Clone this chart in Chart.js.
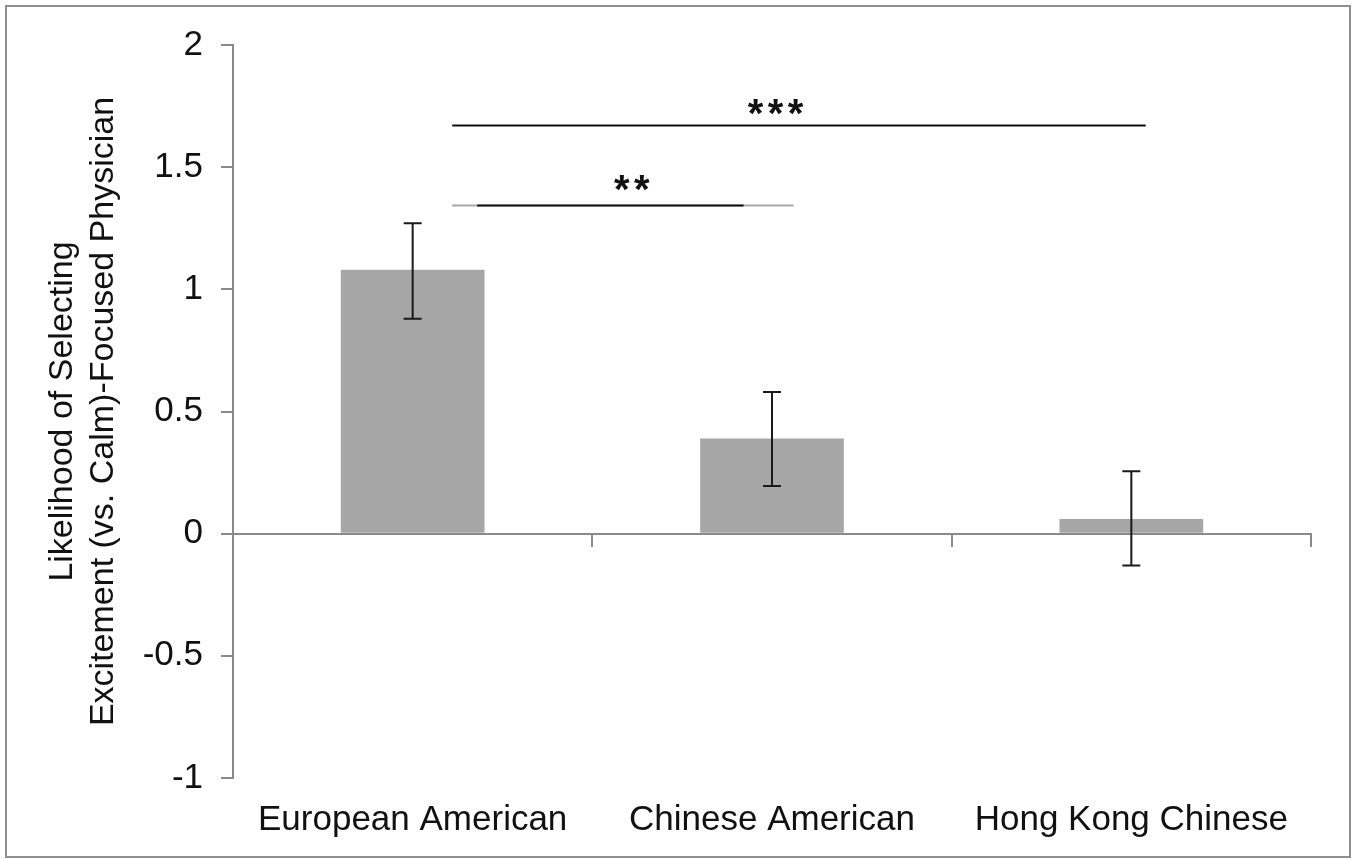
<!DOCTYPE html>
<html>
<head>
<meta charset="utf-8">
<script src="https://cdn.jsdelivr.net/npm/chart.js@4/dist/chart.umd.min.js"></script>
<style>
    html, body { margin: 0; padding: 0; background: #ffffff; }
    canvas { display: block; }
</style>
</head>
<body>
<canvas id="chart" width="1355" height="859"></canvas>
<script>
// Data
const groups = ['European American', 'Chinese American', 'Hong Kong Chinese'];
const means = [1.08, 0.39, 0.06];
const errHigh = [1.27, 0.58, 0.255];
const errLow = [0.88, 0.195, -0.13];
const yTicks = [-1, -0.5, 0, 0.5, 1, 1.5, 2];

// significance brackets: from/to in category units, y in data units
const sigLines = [
    { from: 0.11, to: 2.04, y: 1.672, label: '***', labelX: 1.01, labelY: 1.755 },
    { from: 0.11, to: 1.06, y: 1.344, label: '**', labelX: 0.61, labelY: 1.442 }
];

const AXIS_GREY = '#8a8a8a';
const TEXT = '#111111';
const FONT = "'Liberation Sans', Arial, sans-serif";

const framePlugin = {
    id: 'frame',
    beforeDraw(chart) {
        const ctx = chart.ctx;
        ctx.save();
        ctx.fillStyle = '#ffffff';
        ctx.fillRect(0, 0, chart.width, chart.height);
        ctx.strokeStyle = '#8f8f8f';
        ctx.lineWidth = 2;
        ctx.strokeRect(6, 6, 1344, 851);
        ctx.restore();
    }
};

const errorBarPlugin = {
    id: 'errorBars',
    afterDatasetsDraw(chart) {
        const ctx = chart.ctx;
        const y = chart.scales.y;
        const meta = chart.getDatasetMeta(0);
        ctx.save();
        ctx.strokeStyle = '#1a1a1a';
        ctx.lineWidth = 2;
        meta.data.forEach((bar, i) => {
            const top = y.getPixelForValue(errHigh[i]);
            const bottom = y.getPixelForValue(errLow[i]);
            ctx.beginPath();
            ctx.moveTo(bar.x, top);
            ctx.lineTo(bar.x, bottom);
            ctx.moveTo(bar.x - 9, top);
            ctx.lineTo(bar.x + 9, top);
            ctx.moveTo(bar.x - 9, bottom);
            ctx.lineTo(bar.x + 9, bottom);
            ctx.stroke();
        });
        ctx.restore();
    }
};

const significancePlugin = {
    id: 'significance',
    afterDatasetsDraw(chart) {
        const ctx = chart.ctx;
        const x = chart.scales.x;
        const y = chart.scales.y;
        ctx.save();
        sigLines.forEach((s, idx) => {
            const py = Math.round(y.getPixelForValue(s.y)) + 0.5;
            const x1 = x.getPixelForValue(s.from);
            const x2 = x.getPixelForValue(s.to);
            if (idx === 1) {
                // faded ends on the shorter bracket
                ctx.strokeStyle = '#a8a8a8';
                ctx.lineWidth = 2;
                ctx.beginPath();
                ctx.moveTo(x1, py);
                ctx.lineTo(x2, py);
                ctx.stroke();
                ctx.strokeStyle = '#111111';
                ctx.beginPath();
                ctx.moveTo(x1 + 25, py);
                ctx.lineTo(x2 - 50, py);
                ctx.stroke();
            } else {
                ctx.strokeStyle = '#111111';
                ctx.lineWidth = 2;
                ctx.beginPath();
                ctx.moveTo(x1, py);
                ctx.lineTo(x2, py);
                ctx.stroke();
            }

            ctx.fillStyle = TEXT;
            ctx.font = 'bold 40px ' + FONT;
            ctx.textAlign = 'center';
            ctx.textBaseline = 'alphabetic';
            const cx = x.getPixelForValue(s.labelX);
            const cy = y.getPixelForValue(s.labelY);
            const n = s.label.length;
            for (let k = 0; k < n; k++) {
                const sx = cx + (k - (n - 1) / 2) * 20;
                ctx.fillText('*', sx, cy + 22);
            }
        });
        ctx.restore();
    }
};

const ctx = document.getElementById('chart').getContext('2d');

new Chart(ctx, {
    type: 'bar',
    data: {
        labels: groups,
        datasets: [{
            data: means,
            backgroundColor: '#a6a6a6',
            borderWidth: 0,
            barPercentage: 0.4,
            categoryPercentage: 1.0,
            xAxisID: 'x',
            yAxisID: 'y'
        }]
    },
    options: {
        responsive: false,
        animation: false,
        devicePixelRatio: 1,
        layout: { padding: { top: 45, right: 44, left: 0, bottom: 0 } },
        plugins: {
            legend: { display: false },
            tooltip: { enabled: false }
        },
        scales: {
            x: {
                type: 'category',
                position: 'bottom',
                offset: true,
                grid: { display: false, drawTicks: false },
                border: { display: false },
                ticks: {
                    color: TEXT,
                    font: { family: FONT, size: 35 },
                    padding: 21,
                    maxRotation: 0,
                    autoSkip: false
                },
                afterFit(scale) { scale.height = 81; }
            },
            x2: {
                type: 'category',
                axis: 'x',
                position: { y: 0 },
                offset: true,
                grid: {
                    offset: true,
                    drawOnChartArea: false,
                    drawTicks: true,
                    tickLength: 12,
                    color: AXIS_GREY,
                    lineWidth: 2
                },
                border: { display: true, color: AXIS_GREY, width: 2 },
                ticks: { display: false }
            },
            y: {
                type: 'linear',
                position: 'left',
                min: -1,
                max: 2,
                afterBuildTicks(scale) {
                    scale.ticks = yTicks.map(v => ({ value: v }));
                },
                ticks: {
                    color: TEXT,
                    font: { family: FONT, size: 35 },
                    padding: 18,
                    callback: (v) => String(v)
                },
                grid: {
                    drawOnChartArea: false,
                    drawTicks: true,
                    tickLength: 12,
                    color: AXIS_GREY,
                    lineWidth: 2
                },
                border: { display: true, color: AXIS_GREY, width: 2 },
                title: {
                    display: true,
                    text: ['Likelihood of Selecting', 'Excitement (vs. Calm)-Focused Physician'],
                    color: TEXT,
                    font: { family: FONT, size: 34, lineHeight: 1.2 },
                    padding: { top: 42, bottom: 0 }
                },
                afterFit(scale) { scale.width = 233; }
            }
        }
    },
    plugins: [framePlugin, errorBarPlugin, significancePlugin]
});
</script>
</body>
</html>
